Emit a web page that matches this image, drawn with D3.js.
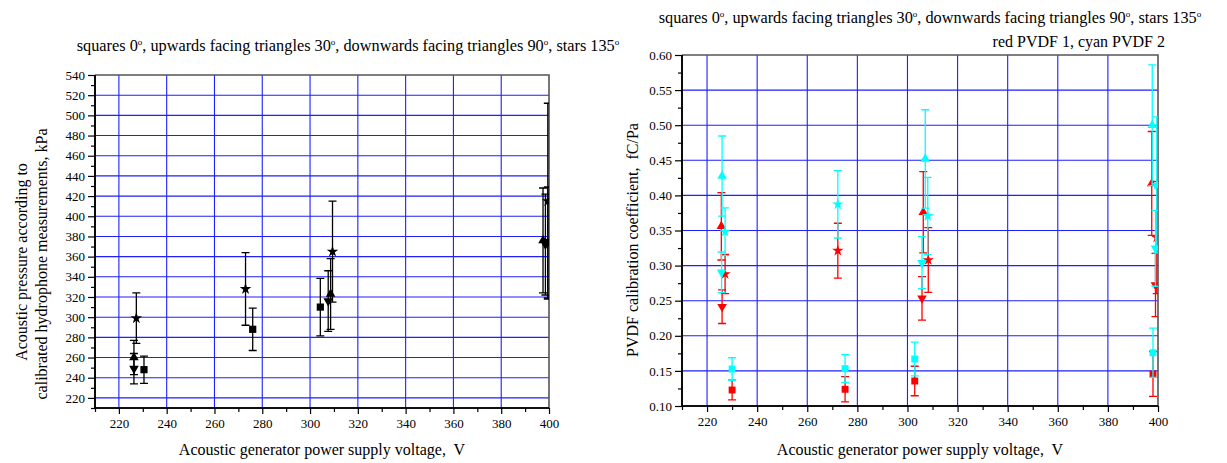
<!DOCTYPE html>
<html>
<head>
<meta charset="utf-8">
<script src="https://cdn.jsdelivr.net/npm/d3@7"></script>
<style>
  body { margin: 0; background: #fff; }
  svg text { font-family: "Liberation Serif", "Times New Roman", serif; fill: #000; white-space: pre; }
</style>
</head>
<body>
<div id="chart"></div>
<script>
// ---- data ----
// left panel: acoustic pressure (kPa) vs generator voltage (V)
const pSqX = [230.5, 276, 304.3, 399.5];
const pSqY = [248, 288, 310, 374];
const pSqE = [13.5, 21, 28.5, 55];
const pUpX = [226.3, 308.6, 397.5];
const pUpY = [260, 323, 376];
const pUpE = [17, 35, 52];
const pDnX = [226.3, 307.6, 398.5];
const pDnY = [249, 316, 372];
const pDnE = [15, 30, 50];
const pStX = [227.3, 273, 309.4, 399.5];
const pStY = [299, 328, 365, 415];
const pStE = [25, 36, 50, 97];

// right panel: PVDF calibration coefficient (fC/Pa), red = PVDF 1, cyan = PVDF 2
const r1SqX = [230, 275.1, 302.9, 398];
const r1SqY = [0.1228, 0.1238, 0.1356, 0.1456];
const r1SqE = [0.014, 0.018, 0.021, 0.032];
const r2SqX = [230, 275.1, 302.9, 398];
const r2SqY = [0.1527, 0.1532, 0.1669, 0.1759];
const r2SqE = [0.016, 0.02, 0.024, 0.035];
const r1UpX = [225.7, 306.3, 397.5];
const r1UpY = [0.356, 0.376, 0.417];
const r1UpE = [0.048, 0.058, 0.074];
const r2UpX = [226, 307.1, 397.7];
const r2UpY = [0.4276, 0.452, 0.500];
const r2UpE = [0.057, 0.07, 0.086];
const r1DnX = [226, 305.8, 399];
const r1DnY = [0.2415, 0.2534, 0.2724];
const r1DnE = [0.024, 0.031, 0.045];
const r2DnX = [225.8, 305.8, 399];
const r2DnY = [0.2904, 0.3042, 0.3246];
const r2DnE = [0.029, 0.037, 0.054];
const r1StX = [227.2, 272.2, 308.3, 399.5];
const r1StY = [0.288, 0.3213, 0.308, 0.34];
const r1StE = [0.028, 0.039, 0.046, 0.08];
const r2StX = [227.2, 272.2, 308.1, 399.5];
const r2StY = [0.3483, 0.3873, 0.3707, 0.415];
const r2StE = [0.034, 0.048, 0.055, 0.097];

const voltTicks = [220, 240, 260, 280, 300, 320, 340, 360, 380, 400];
const pressTicks = d3.range(220, 541, 20);
const coefTicks = [0.10, 0.15, 0.20, 0.25, 0.30, 0.35, 0.40, 0.45, 0.50, 0.55, 0.60];

// each piece is followed by a superscript "o" (degree)
const titleText = ["squares 0", ", upwards facing triangles 30", ", downwards facing triangles 90", ", stars 135"];

const width = 1227, height = 463;
const svg = d3.select("#chart").append("svg")
    .attr("width", width)
    .attr("height", height);

function zip(xs, ys, es) {
    return xs.map((x, i) => ({ x: x, y: ys[i], e: es[i] }));
}

function drawTitle(x, y) {
    const t = svg.append("text")
        .attr("x", x).attr("y", y)
        .attr("text-anchor", "middle")
        .style("font-size", "16.3px");
    titleText.forEach((s, i) => {
        t.append("tspan").attr("dy", i > 0 ? 6 : 0).text(s);
        t.append("tspan")
            .attr("dy", -6)
            .style("font-size", "9px")
            .text("o");
    });
}

function drawPanel(opt) {
    const x = d3.scaleLinear().domain([210, 400]).range([opt.left, opt.right]);
    const y = d3.scaleLinear().domain(opt.yDomain).range([opt.bottom, opt.top]);
    const g = svg.append("g");

    // grid
    g.selectAll(".vgrid")
        .data(voltTicks.filter(d => d < 400))
        .join("line")
        .attr("x1", d => x(d)).attr("x2", d => x(d))
        .attr("y1", opt.top).attr("y2", opt.bottom)
        .attr("stroke", "#1f1fff")
        .attr("stroke-width", 1.1);
    g.selectAll(".hgrid")
        .data(opt.yTicks.filter(d => d > opt.yDomain[0] && d < opt.yDomain[1]))
        .join("line")
        .attr("x1", opt.left).attr("x2", opt.right)
        .attr("y1", d => y(d)).attr("y2", d => y(d))
        .attr("stroke", "#1f1fff")
        .attr("stroke-width", 1.1);

    // frame top/right
    g.append("path")
        .attr("d", `M${opt.left},${opt.top}H${opt.right}V${opt.bottom}`)
        .attr("fill", "none")
        .attr("stroke", "#555")
        .attr("stroke-width", 1.6);

    // axes
    const xAxis = d3.axisBottom(x).tickValues(voltTicks).tickSize(6).tickPadding(5)
        .tickFormat(d3.format("d"));
    const xMinor = d3.axisBottom(x).tickValues(d3.range(210, 400, 20)).tickSize(4).tickFormat("");
    const yAxis = d3.axisLeft(y).tickValues(opt.yTicks).tickSize(7).tickPadding(3)
        .tickFormat(opt.fmt);
    const yMinor = d3.axisLeft(y).tickValues(opt.yMinor).tickSize(4).tickFormat("");

    [xAxis, xMinor].forEach(a => {
        g.append("g").attr("transform", `translate(0,${opt.bottom})`).call(a)
            .call(s => s.select(".domain").attr("stroke-width", 1.6).attr("d", `M${opt.left},0H${opt.right}`))
            .call(s => s.selectAll(".tick line").attr("stroke-width", 1.2))
            .call(s => s.selectAll("text").style("font-size", "13px").style("font-family", "Liberation Serif"));
    });
    [yAxis, yMinor].forEach(a => {
        g.append("g").attr("transform", `translate(${opt.left},0)`).call(a)
            .call(s => s.select(".domain").attr("stroke-width", 1.6).attr("d", `M0,${opt.top}V${opt.bottom}`))
            .call(s => s.selectAll(".tick line").attr("stroke-width", 1.2))
            .call(s => s.selectAll("text").style("font-size", "13px").style("font-family", "Liberation Serif"));
    });

    // data, clipped to the plot area
    const clipId = "clip-" + opt.id;
    svg.append("clipPath").attr("id", clipId)
        .append("rect")
        .attr("x", opt.left).attr("y", opt.top)
        .attr("width", opt.right - opt.left).attr("height", opt.bottom - opt.top);
    const dg = g.append("g").attr("clip-path", `url(#${clipId})`);

    opt.series.forEach(s => {
        const sg = dg.append("g");
        const pts = s.data;
        sg.selectAll(".eb")
            .data(pts)
            .join("path")
            .attr("d", d => {
                const cx = x(d.x), t = y(d.y + d.e), b = y(d.y - d.e);
                return `M${cx - 4},${t}H${cx + 4}M${cx},${t}V${b}M${cx - 4},${b}H${cx + 4}`;
            })
            .attr("fill", "none")
            .attr("stroke", s.color)
            .attr("stroke-width", 1.3);
        sg.selectAll(".mk")
            .data(pts)
            .join("path")
            .attr("d", d3.symbol().type(s.shape).size(s.size))
            .attr("transform", d => `translate(${x(d.x)},${y(d.y)})` + (s.flip ? " rotate(180)" : ""))
            .attr("fill", s.color);
    });

    // x label
    svg.append("text")
        .attr("x", (opt.left + opt.right) / 2)
        .attr("y", 455)
        .attr("text-anchor", "middle")
        .style("font-size", "16px")
        .text("Acoustic generator power supply voltage,  V");
}

// ---- left panel ----
drawPanel({
    id: "press",
    left: 95, right: 549, top: 75, bottom: 408,
    yDomain: [210, 540],
    yTicks: pressTicks,
    yMinor: d3.range(210, 540, 20),
    fmt: d3.format("d"),
    series: [
        { shape: d3.symbolSquare, size: 52, color: "#000", data: zip(pSqX, pSqY, pSqE) },
        { shape: d3.symbolTriangle, size: 40, color: "#000", data: zip(pUpX, pUpY, pUpE) },
        { shape: d3.symbolTriangle, size: 40, color: "#000", flip: true, data: zip(pDnX, pDnY, pDnE) },
        { shape: d3.symbolStar, size: 42, color: "#000", data: zip(pStX, pStY, pStE) }
    ]
});

// ---- right panel ----
drawPanel({
    id: "coef",
    left: 682, right: 1158, top: 55, bottom: 406,
    yDomain: [0.10, 0.60],
    yTicks: coefTicks,
    yMinor: d3.range(0.125, 0.6, 0.05),
    fmt: d3.format(".2f"),
    series: [
        { shape: d3.symbolSquare, size: 48, color: "#ff0000", data: zip(r1SqX, r1SqY, r1SqE) },
        { shape: d3.symbolTriangle, size: 40, color: "#ff0000", data: zip(r1UpX, r1UpY, r1UpE) },
        { shape: d3.symbolTriangle, size: 40, color: "#ff0000", flip: true, data: zip(r1DnX, r1DnY, r1DnE) },
        { shape: d3.symbolStar, size: 40, color: "#ff0000", data: zip(r1StX, r1StY, r1StE) },
        { shape: d3.symbolSquare, size: 48, color: "#00ffff", data: zip(r2SqX, r2SqY, r2SqE) },
        { shape: d3.symbolTriangle, size: 40, color: "#00ffff", data: zip(r2UpX, r2UpY, r2UpE) },
        { shape: d3.symbolTriangle, size: 40, color: "#00ffff", flip: true, data: zip(r2DnX, r2DnY, r2DnE) },
        { shape: d3.symbolStar, size: 40, color: "#00ffff", data: zip(r2StX, r2StY, r2StE) }
    ]
});

// titles
drawTitle(348, 51);
drawTitle(930, 23);
svg.append("text")
    .attr("x", 1165).attr("y", 47)
    .attr("text-anchor", "end")
    .style("font-size", "16px")
    .text("red PVDF 1, cyan PVDF 2");

// y labels
svg.append("text")
    .attr("transform", "translate(27,262) rotate(-90)")
    .attr("text-anchor", "middle")
    .style("font-size", "16px")
    .text("Acoustic pressure according to");
svg.append("text")
    .attr("transform", "translate(47,264) rotate(-90)")
    .attr("text-anchor", "middle")
    .style("font-size", "16px")
    .text("calibrated hydrophone measurements, kPa");
svg.append("text")
    .attr("transform", "translate(638,240) rotate(-90)")
    .attr("text-anchor", "middle")
    .style("font-size", "16px")
    .text("PVDF calibration coefficient,  fC/Pa");
</script>
</body>
</html>
